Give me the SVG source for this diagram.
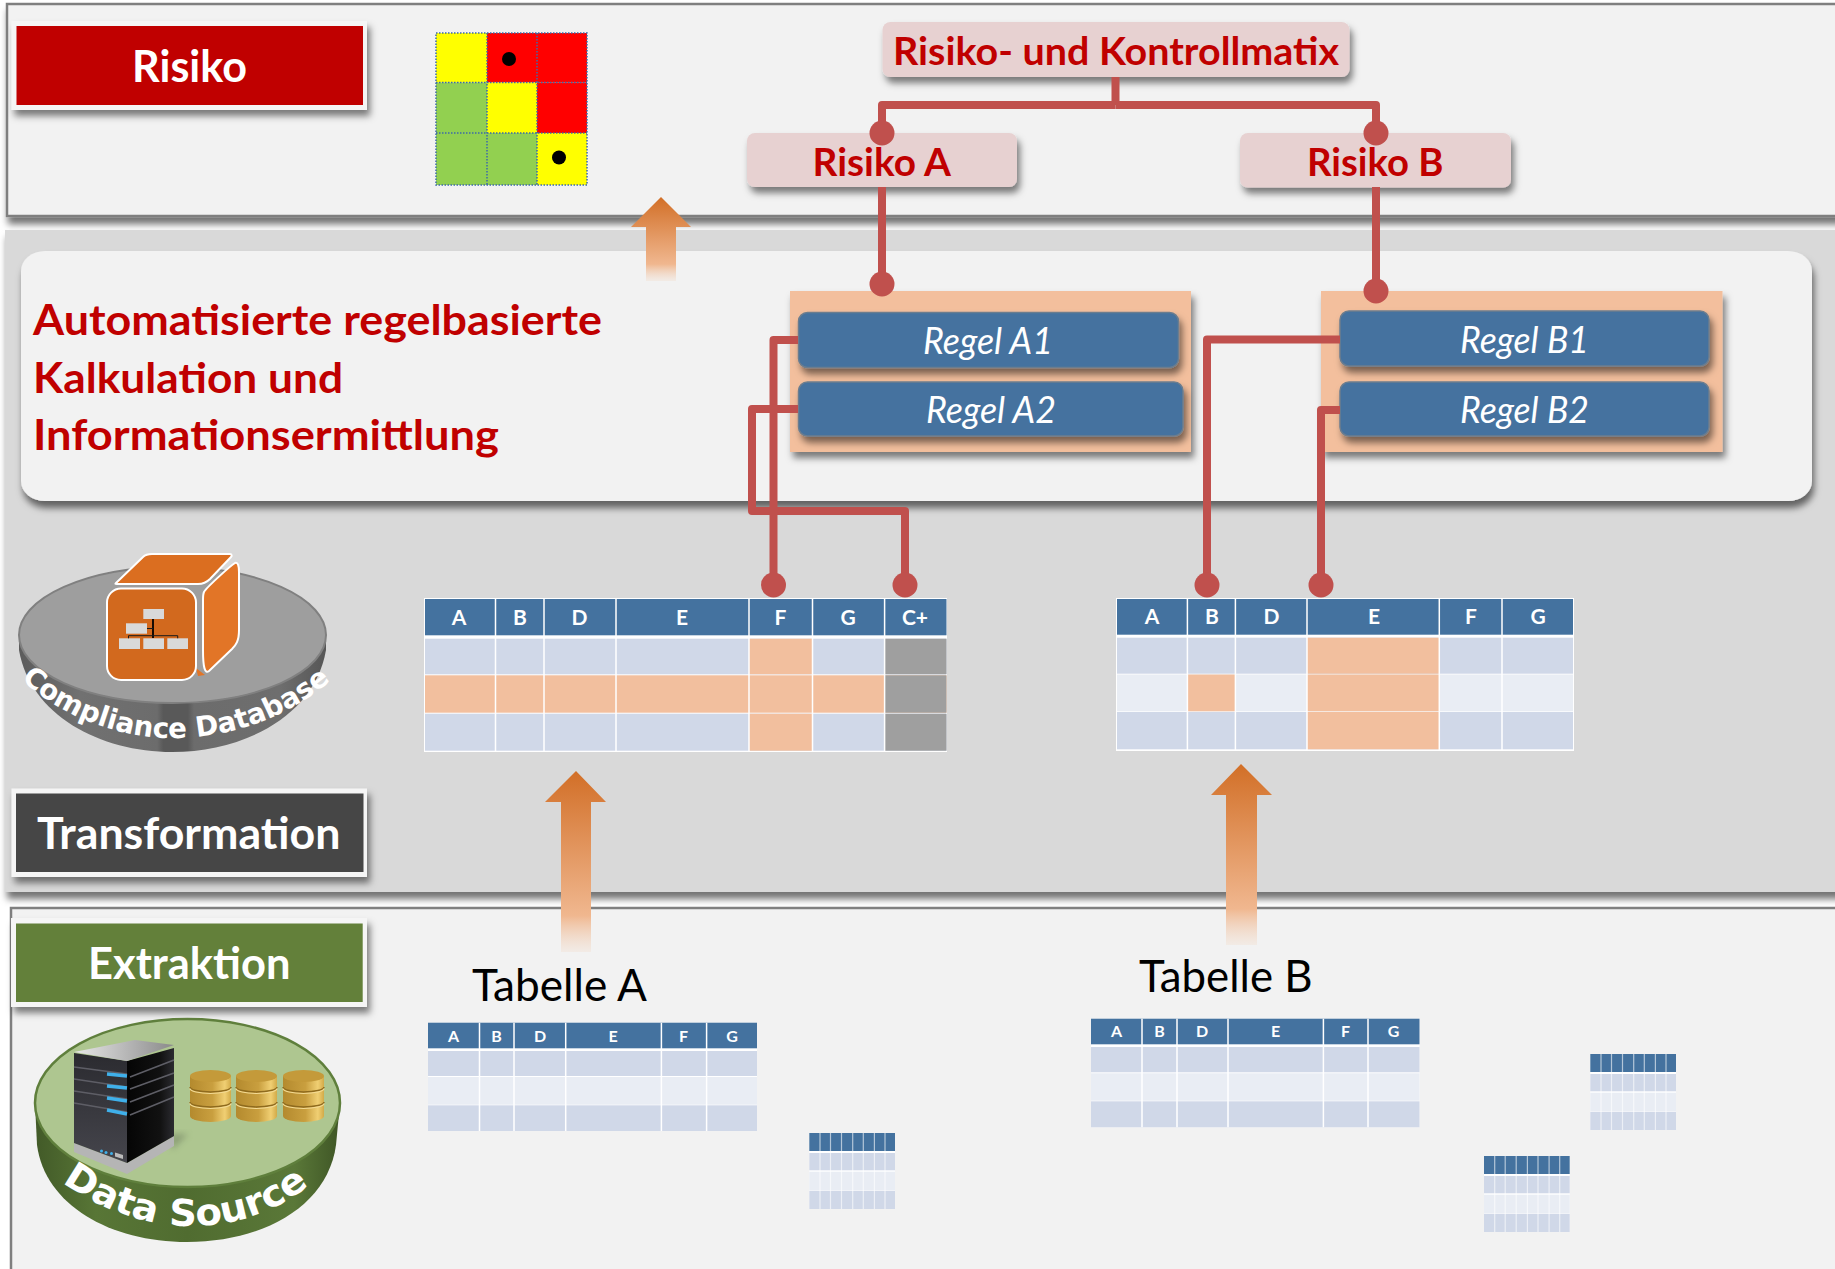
<svg xmlns="http://www.w3.org/2000/svg" xmlns:xlink="http://www.w3.org/1999/xlink" width="1835" height="1269" viewBox="0 0 1835 1269">
<style>
text{font-family:"Lato","Liberation Sans",sans-serif}
.panel{fill:#f2f2f2;stroke:#7f7f7f;stroke-width:2.5}
.lblo{fill:#f5f5f5;filter:url(#sh)}
.lbl{font-size:44px;font-weight:700;fill:#fff;text-anchor:start}
.red{font-weight:700;fill:#c00000}
.head{font-size:39px}
.big{font-size:42px}
.pink{fill:#e7d1d1;filter:url(#sh)}
.rp{fill:#f3bf9d;filter:url(#sh)}
.rule{fill:#44729f;stroke:#6c7d8e;stroke-width:1.5;filter:url(#sh)}
.rt{font-size:36px;font-style:italic;fill:#fff}
.conn{fill:none;stroke:#c0504d;stroke-width:8;stroke-linejoin:round}
.hdr{fill:#44729f}.b1{fill:#d0d8e8}.b2{fill:#e9edf4}.hl{fill:#f2bf9e}.gr{fill:#9f9f9f}
.vl{fill:none;stroke:#fff;stroke-width:1.5}
.th{font-weight:700;font-size:21px;fill:#fff;text-anchor:middle}
.ths{font-weight:700;font-size:16px;fill:#fff;text-anchor:middle}
.tb{font-size:44px;fill:#000}
.cube{stroke:#fff;stroke-width:2;stroke-linejoin:round}
.org{fill:#d9d9d9}
.curve{font-family:"DejaVu Sans",sans-serif;font-weight:700;fill:#fff}
.bar{fill:none;stroke:#5e5e66;stroke-width:1.6}
.led{fill:none;stroke:#3fb0ea;stroke-width:3.5}
</style>
<defs>
<filter id="sh" x="-10%" y="-20%" width="125%" height="150%"><feDropShadow dx="3" dy="6" stdDeviation="3.5" flood-color="#000" flood-opacity=".5"/></filter>
<filter id="shp" x="-2%" y="-5%" width="104%" height="112%"><feDropShadow dx="2" dy="7" stdDeviation="3.5" flood-color="#000" flood-opacity=".55"/></filter>
<filter id="soft" x="-30%" y="-30%" width="160%" height="160%"><feGaussianBlur stdDeviation="3"/></filter>
<marker id="dot" markerUnits="userSpaceOnUse" markerWidth="26" markerHeight="26" refX="13" refY="13"><circle cx="13" cy="13" r="12.500" fill="#c0504d"/></marker>
<linearGradient id="ag" x1="0" y1="0" x2="0" y2="1"><stop offset="0" stop-color="#d26f27"/><stop offset=".8" stop-color="#f0b78f"/><stop offset="1" stop-color="#f2e0d2" stop-opacity=".4"/></linearGradient>
<linearGradient id="dbs" x1="0" y1="0" x2="1" y2="0"><stop offset="0" stop-color="#5c5c5c"/><stop offset=".2" stop-color="#717171"/><stop offset=".45" stop-color="#6c6c6c"/><stop offset=".47" stop-color="#595959"/><stop offset=".55" stop-color="#595959"/><stop offset=".57" stop-color="#6c6c6c"/><stop offset=".85" stop-color="#6e6e6e"/><stop offset="1" stop-color="#565656"/></linearGradient>
<linearGradient id="dss" x1="0" y1="0" x2="1" y2="0"><stop offset="0" stop-color="#425a28"/><stop offset=".2" stop-color="#587636"/><stop offset=".5" stop-color="#506c30"/><stop offset=".85" stop-color="#5a7838"/><stop offset="1" stop-color="#3f5626"/></linearGradient>
<linearGradient id="gold" x1="0" y1="0" x2="1" y2="0"><stop offset="0" stop-color="#b48a2e"/><stop offset=".55" stop-color="#c99f3f"/><stop offset=".85" stop-color="#f0cf73"/><stop offset="1" stop-color="#d2aa48"/></linearGradient>
<linearGradient id="srvL" x1="0" y1="0" x2="0" y2="1"><stop offset="0" stop-color="#2b2b30"/><stop offset="1" stop-color="#45454c"/></linearGradient>
<linearGradient id="srvR" x1="0" y1="0" x2="1" y2="0"><stop offset="0" stop-color="#050505"/><stop offset=".7" stop-color="#111"/><stop offset="1" stop-color="#2b2b30"/></linearGradient>
<linearGradient id="srvT" x1="0" y1="0" x2="1" y2="0"><stop offset="0" stop-color="#e8e8e8"/><stop offset="1" stop-color="#8a8a8a"/></linearGradient>
<g id="stack">
<path d="M0,6 V46 A20.5,6 0 0 0 41,46 V6 Z" fill="url(#gold)"/>
<ellipse cx="20.500" cy="6" rx="20.500" ry="6" fill="#c49a3a"/>
<path d="M0,17 A20.5,5 0 0 0 41,17 M0,32 A20.5,5 0 0 0 41,32" fill="none" stroke="#8e6a1e" stroke-width="1.500"/>
<path d="M0,18.500 A20.5,5 0 0 0 41,18.500 M0,33.500 A20.5,5 0 0 0 41,33.500" fill="none" stroke="#f3da93" stroke-width="1.200"/>
</g>
<g id="mini">
<rect width="85.700" height="76" fill="#fff"/>
<rect width="85.700" height="18" class="hdr"/>
<rect y="20" width="85.700" height="17.300" class="b1"/>
<rect y="38.700" width="85.700" height="18.300" class="b2"/>
<rect y="57.700" width="85.700" height="18.300" class="b1"/>
<path d="M10.700,0V76M21.200,0V76M32.200,0V76M43.400,0V76M54,0V76M65.100,0V76M75.700,0V76" fill="none" stroke="#fff" stroke-width="1.200" opacity=".6"/>
</g>
</defs>
<rect width="1835" height="1269" fill="#fff"/>

<g id="panel-risiko"><rect x="7" y="4" width="1840" height="212" class="panel" filter="url(#shp)"/></g>
<g id="panel-transformation"><rect x="5" y="230" width="1840" height="662" fill="#d9d9d9" filter="url(#shp)"/></g>
<g id="panel-extraktion"><rect x="11" y="908" width="1840" height="380" class="panel"/></g>

<g id="panel-kalkulation"><rect x="21" y="251" width="1791" height="250" rx="24" ry="20" fill="#f2f2f2" filter="url(#shp)"/>
<text class="red big" x="33" y="335" textLength="569" lengthAdjust="spacingAndGlyphs">Automatisierte regelbasierte</text>
<text class="red big" x="33" y="393" textLength="310" lengthAdjust="spacingAndGlyphs">Kalkulation und</text>
<text class="red big" x="33" y="450" textLength="466" lengthAdjust="spacingAndGlyphs">Informationsermittlung</text>
</g>

<g id="label-risiko"><rect x="11.500" y="21" width="355.500" height="89" class="lblo"/><rect x="16.500" y="26" width="346.500" height="79" fill="#c00000"/><text class="lbl" x="132" y="81.500" textLength="115" lengthAdjust="spacingAndGlyphs">Risiko</text></g>

<g id="risk-matrix">
<rect x="436" y="33" width="51" height="49.500" fill="#ff0"/><rect x="487" y="33" width="50" height="49.500" fill="#f00"/><rect x="537" y="33" width="50" height="49.500" fill="#f00"/>
<rect x="436" y="82.500" width="51" height="50.500" fill="#92d050"/><rect x="487" y="82.500" width="50" height="50.500" fill="#ff0"/><rect x="537" y="82.500" width="50" height="50.500" fill="#f00"/>
<rect x="436" y="133" width="51" height="52" fill="#92d050"/><rect x="487" y="133" width="50" height="52" fill="#92d050"/><rect x="537" y="133" width="50" height="52" fill="#ff0"/>
<path d="M436,33H587V185H436ZM487,33V185M537,33V185M436,82.500H587M436,133H587" fill="none" stroke="#3c6aa8" stroke-width="1.500" stroke-dasharray="1.500 1.500"/>
<circle cx="509" cy="59" r="7"/><circle cx="559" cy="157.500" r="7"/>
</g>

<g id="arrows">
<path id="arrow-up-risk" d="M661,197L691,227H676V281H646V227H631Z" fill="url(#ag)"/>
<path id="arrow-up-a" d="M576,771L606,802H591V952H561V802H545Z" fill="url(#ag)"/>
<path id="arrow-up-b" d="M1241,764L1272,795H1257V945H1226V795H1211Z" fill="url(#ag)"/>
</g>

<g id="rmk"><rect x="882.500" y="22" width="467" height="55" rx="8" class="pink"/><text class="red head" x="893" y="65" textLength="446" lengthAdjust="spacingAndGlyphs">Risiko- und Kontrollmatix</text></g>
<g id="risiko-a"><rect x="747" y="133" width="270" height="54" rx="8" class="pink"/><text class="red head" x="812.500" y="175.500" textLength="138.500" lengthAdjust="spacingAndGlyphs">Risiko A</text></g>
<g id="risiko-b"><rect x="1240" y="133" width="271" height="54.500" rx="8" class="pink"/><text class="red head" x="1307" y="175.500" textLength="136.500" lengthAdjust="spacingAndGlyphs">Risiko B</text></g>

<g id="regeln-a"><rect x="790" y="291" width="401" height="161" class="rp"/></g>
<g id="regeln-b"><rect x="1321" y="291" width="401.500" height="161" class="rp"/></g>
<g id="regel-a1"><rect x="798.500" y="312.500" width="380" height="55" rx="9" class="rule"/><text class="rt" x="923" y="353.500" textLength="130" lengthAdjust="spacingAndGlyphs">Regel A1</text></g>
<g id="regel-a2"><rect x="798.500" y="382" width="384.500" height="54" rx="9" class="rule"/><text class="rt" x="926" y="422.500" textLength="130" lengthAdjust="spacingAndGlyphs">Regel A2</text></g>
<g id="regel-b1"><rect x="1340" y="311" width="369" height="55" rx="9" class="rule"/><text class="rt" x="1460" y="352.500" textLength="129" lengthAdjust="spacingAndGlyphs">Regel B1</text></g>
<g id="regel-b2"><rect x="1340" y="382" width="369" height="54" rx="9" class="rule"/><text class="rt" x="1460" y="422.500" textLength="129" lengthAdjust="spacingAndGlyphs">Regel B2</text></g>

<g id="connectors">
<path class="conn" d="M1115.500,77V105"/>
<path class="conn" marker-end="url(#dot)" d="M1115.500,105H882V133"/>
<path class="conn" marker-end="url(#dot)" d="M1115.500,105H1376V133"/>
<path class="conn" marker-end="url(#dot)" d="M882,187V284"/>
<path class="conn" marker-end="url(#dot)" d="M1376,187V291"/>
<path class="conn" marker-end="url(#dot)" d="M798,340H773.500V585"/>
<path class="conn" marker-end="url(#dot)" d="M798,409H752V511H905V585"/>
<path class="conn" marker-end="url(#dot)" d="M1340,339.500H1207V585"/>
<path class="conn" marker-end="url(#dot)" d="M1340,410H1321V585"/>
</g>

<g id="compliance-database">
<path d="M19,634V650C30,715 100,752 172,752C245,752 315,715 326,650V634Z" fill="url(#dbs)"/>
<ellipse cx="172.500" cy="635" rx="153.500" ry="68" fill="#9e9e9e" stroke="#808080" stroke-width="2"/>
<path class="cube" d="M204,592C206,588 230,566 235,563C238,562 239,566 239,572V630C239,641 236,645 232,649L209,671C205,674 203,668 203,650V600C203,596 203,594 204,592Z" fill="#e27527"/>
<path d="M196,668L205,675L198,676Z" fill="#e27527"/>
<path class="cube" d="M116,583L143,557C145,555 148,554 152,554H230C232,554 232,556 231,557L210,579C207,582 203,584 198,584H117C115,584 115,584 116,583Z" fill="#db6e20"/>
<rect class="cube" x="107" y="588.500" width="89" height="91.500" rx="14" fill="#d2691e"/>
<rect class="org" x="143.300" y="609" width="20.700" height="10"/>
<rect class="org" x="126" y="623.300" width="21" height="10.400"/>
<rect class="org" x="119" y="638.300" width="21" height="10.700"/>
<rect class="org" x="143.300" y="638.300" width="20.700" height="10.700"/>
<rect class="org" x="167.300" y="638.300" width="20.700" height="10.700"/>
<path d="M153,619V638" stroke="#000" stroke-width="1.800" fill="none"/>
<path d="M147,628.500H153M128.500,638.300V635.700H177.700V638.300" stroke="#1a1a1a" stroke-width="1" fill="none"/>
<path id="curveDB" d="M14,672C60,720 125,738 172,738C222,738 280,724 334,678" fill="none"/>
<text class="curve" font-size="28"><textPath xlink:href="#curveDB" href="#curveDB" startOffset="10" textLength="338" lengthAdjust="spacingAndGlyphs">Compliance Database</textPath></text>
</g>

<g id="label-transformation"><rect x="11.500" y="788.500" width="355.500" height="88.500" class="lblo"/><rect x="16" y="793.500" width="347.500" height="78.500" fill="#464646"/><text class="lbl" x="37" y="849" textLength="303.500" lengthAdjust="spacingAndGlyphs">Transformation</text></g>

<g id="table-1">
<rect x="424" y="598" width="523" height="154" fill="#fff"/>
<rect x="425" y="599" width="521.500" height="36.300" class="hdr"/>
<rect x="425" y="638.700" width="521.500" height="35.600" class="b1"/>
<rect x="425" y="675.300" width="521.500" height="37.400" class="hl"/>
<rect x="425" y="713.700" width="521.500" height="37" class="b1"/>
<rect x="749" y="638.700" width="63.500" height="35.600" class="hl"/>
<rect x="749" y="713.700" width="63.500" height="37" class="hl"/>
<rect x="884.600" y="638.700" width="61.900" height="35.600" class="gr"/>
<rect x="884.600" y="675.300" width="61.900" height="37.400" class="gr"/>
<rect x="884.600" y="713.700" width="61.900" height="37" class="gr"/>
<path class="vl" d="M495.500,598V752M544,598V752M616,598V752M749,598V752M812.500,598V752M884.600,598V752"/>
<text class="th" x="459" y="625.300">A</text><text class="th" x="520" y="625.300">B</text><text class="th" x="579.500" y="625.300">D</text><text class="th" x="682" y="625.300">E</text><text class="th" x="780.500" y="625.300">F</text><text class="th" x="848" y="625.300">G</text><text class="th" x="915" y="625.300">C+</text>
</g>

<g id="table-2">
<rect x="1116" y="598" width="458" height="153" fill="#fff"/>
<rect x="1117" y="599" width="456" height="35.700" class="hdr"/>
<rect x="1117" y="637.700" width="456" height="36" class="b1"/>
<rect x="1117" y="674.500" width="456" height="36.800" class="b2"/>
<rect x="1117" y="712" width="456" height="37.300" class="b1"/>
<rect x="1187.500" y="674.500" width="47.900" height="36.800" class="hl"/>
<rect x="1307" y="637.700" width="132.300" height="36" class="hl"/>
<rect x="1307" y="674.500" width="132.300" height="36.800" class="hl"/>
<rect x="1307" y="712" width="132.300" height="37.300" class="hl"/>
<path class="vl" d="M1187.400,598V750M1235.400,598V750M1307,598V750M1439.300,598V750M1502,598V750"/>
<text class="th" x="1152" y="624">A</text><text class="th" x="1212" y="624">B</text><text class="th" x="1271.500" y="624">D</text><text class="th" x="1374" y="624">E</text><text class="th" x="1471" y="624">F</text><text class="th" x="1538" y="624">G</text>
</g>

<g id="label-extraktion"><rect x="11" y="918" width="356" height="89" class="lblo"/><rect x="16" y="923.500" width="346.700" height="78.500" fill="#63803a"/><text class="lbl" x="88" y="979" textLength="202.500" lengthAdjust="spacingAndGlyphs">Extraktion</text></g>

<g id="data-source">
<path d="M35,1103L37,1145C45,1205 110,1242 187,1242C265,1242 328,1205 336,1145L340,1103Z" fill="url(#dss)"/>
<ellipse cx="187.500" cy="1103" rx="152.500" ry="84" fill="#aec690" stroke="#5f7f3c" stroke-width="2.500"/>
<path d="M170,1134L188,1134L172,1150Z" fill="#6f7f60" opacity=".55" filter="url(#soft)"/>
<path d="M74,1143V1152L127,1174L174,1146V1136L127,1163Z" fill="#b5b5b5"/>
<path d="M74,1053L127,1061V1163L74,1143Z" fill="url(#srvL)"/>
<path d="M127,1061L174,1048V1136L127,1163Z" fill="url(#srvR)"/>
<path d="M74,1052L135,1040L174,1045L127,1061Z" fill="url(#srvT)"/>
<path class="bar" d="M74,1067L127,1074M74,1079L127,1087M74,1091L127,1099M74,1103L127,1112M130,1077L174,1060M130,1089L174,1073M130,1102L174,1085M130,1115L174,1097"/>
<path class="led" d="M107,1074L127,1076M107,1086L127,1088M107,1098L127,1101M107,1110L127,1114"/>
<circle cx="101.500" cy="1151" r="1.500" fill="#3fb0ea"/><circle cx="106" cy="1152.500" r="1.500" fill="#3fb0ea"/><circle cx="111.500" cy="1153.500" r="1.500" fill="#3fb0ea"/>
<path d="M115,1152.500L123,1155V1159L115,1156.500Z" fill="#bbb"/>
<use href="#stack" xlink:href="#stack" x="190" y="1070"/>
<use href="#stack" xlink:href="#stack" x="236" y="1070"/>
<use href="#stack" xlink:href="#stack" x="283" y="1070"/>
<path id="curveDS" d="M54,1176C100,1212 150,1226 190,1226C235,1226 282,1212 322,1174" fill="none"/>
<text class="curve" font-size="37"><textPath xlink:href="#curveDS" href="#curveDS" startOffset="10" textLength="266" lengthAdjust="spacingAndGlyphs">Data Source</textPath></text>
</g>

<g id="tabelle-a">
<text class="tb" x="472" y="1000.500" textLength="175" lengthAdjust="spacingAndGlyphs">Tabelle A</text>
<rect x="428" y="1022.700" width="329" height="108.300" fill="#fff"/>
<rect x="428" y="1022.700" width="329" height="25.600" class="hdr"/>
<rect x="428" y="1051" width="329" height="25" class="b1"/>
<rect x="428" y="1077" width="329" height="27.700" class="b2"/>
<rect x="428" y="1105.300" width="329" height="25.700" class="b1"/>
<path class="vl" d="M479.500,1022.700V1131M514,1022.700V1131M565.700,1022.700V1131M661.400,1022.700V1131M706.600,1022.700V1131"/>
<text class="ths" x="453.500" y="1041.700">A</text><text class="ths" x="496.500" y="1041.700">B</text><text class="ths" x="540" y="1041.700">D</text><text class="ths" x="613" y="1041.700">E</text><text class="ths" x="683.500" y="1041.700">F</text><text class="ths" x="732" y="1041.700">G</text>
</g>

<g id="tabelle-b">
<text class="tb" x="1139" y="992" textLength="173.500" lengthAdjust="spacingAndGlyphs">Tabelle B</text>
<rect x="1091" y="1018.700" width="328.500" height="108.600" fill="#fff"/>
<rect x="1091" y="1018.700" width="328.500" height="25.600" class="hdr"/>
<rect x="1091" y="1047" width="328.500" height="25.300" class="b1"/>
<rect x="1091" y="1073.300" width="328.500" height="27.400" class="b2"/>
<rect x="1091" y="1101.300" width="328.500" height="26" class="b1"/>
<path class="vl" d="M1142,1018.700V1127.300M1177,1018.700V1127.300M1228,1018.700V1127.300M1323.400,1018.700V1127.300M1368,1018.700V1127.300"/>
<text class="ths" x="1116.500" y="1037">A</text><text class="ths" x="1159.500" y="1037">B</text><text class="ths" x="1202" y="1037">D</text><text class="ths" x="1275.500" y="1037">E</text><text class="ths" x="1345.500" y="1037">F</text><text class="ths" x="1393.500" y="1037">G</text>
</g>

<g id="mini-tables">
<use href="#mini" xlink:href="#mini" x="809.300" y="1133"/>
<use href="#mini" xlink:href="#mini" x="1590.300" y="1054"/>
<use href="#mini" xlink:href="#mini" x="1484" y="1156"/>
</g>
</svg>
